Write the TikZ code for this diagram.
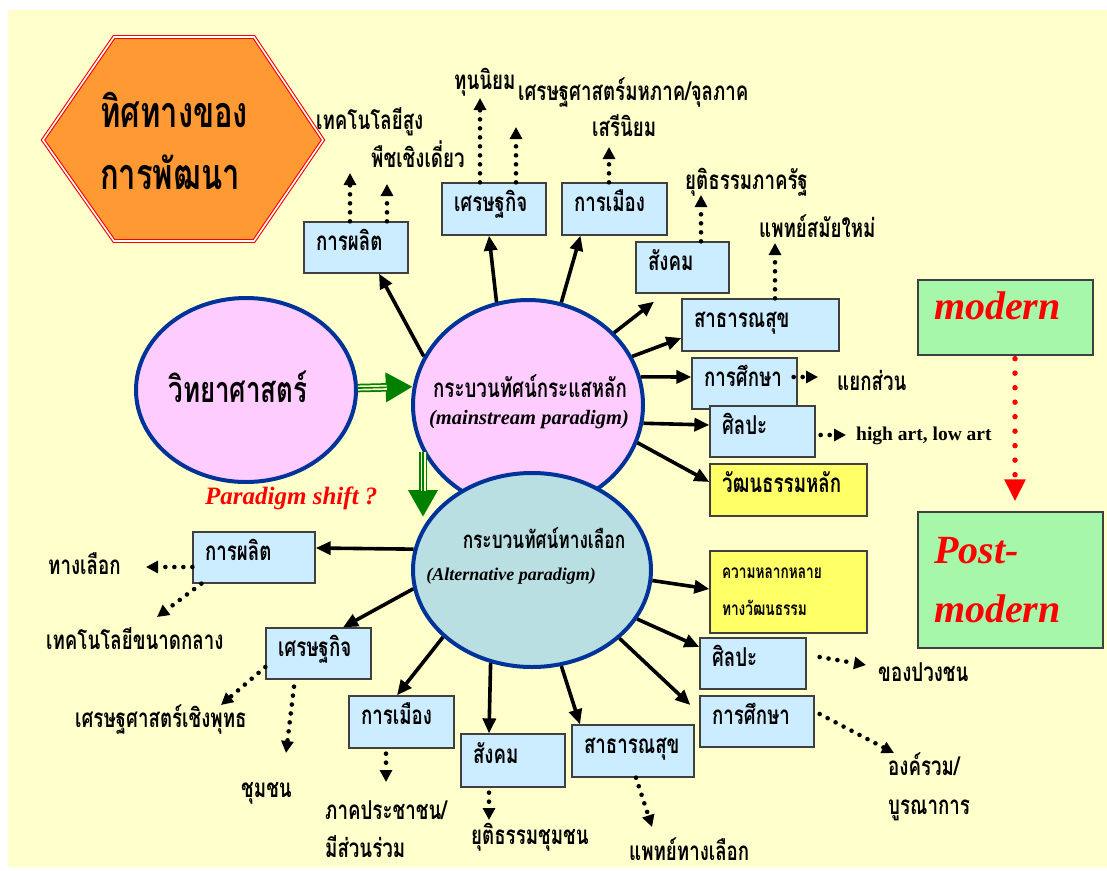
\documentclass[tikz,border=0pt]{standalone}
\usepackage{fontspec}
\setmainfont{Liberation Serif}
\newfontfamily\thai[Script=Thai,FakeStretch=0.72]{Loma}
\usetikzlibrary{arrows.meta,shapes.geometric}
\definecolor{bgyellow}{HTML}{FFFFCC}
\definecolor{hexorange}{HTML}{FF9933}
\definecolor{pinkfill}{HTML}{FFCCFF}
\definecolor{altfill}{HTML}{B9DFE3}
\definecolor{rimblue}{HTML}{003399}
\definecolor{boxblue}{HTML}{CCECFF}
\definecolor{boxyellow}{HTML}{FFFF66}
\definecolor{boxgreen}{HTML}{A6F7AA}
\definecolor{arrowgreen}{HTML}{008000}
\newcommand\mybox[7]{%
  \pgfmathsetmacro\bxw{#5-#3}\pgfmathsetmacro\bxh{#6-#4}\pgfmathsetmacro\bxt{#5-#3-24}%
  \pgfmathsetmacro\bxx{(#3+#5)/2}\pgfmathsetmacro\bxy{(#4+#6)/2}%
  \node[#1, minimum width=\bxw pt, minimum height=\bxh pt, text width=\bxt pt] (#2) at (\bxx,\bxy) {#7};}
\begin{document}
\begin{tikzpicture}[x=1pt,y=-1pt,
  thaifont/.style={font=\thai\bfseries\fontsize{26}{30}\selectfont},
  box/.style={draw=black!75, line width=1.3pt, fill=boxblue, inner xsep=12pt, inner ysep=0pt, align=left, thaifont, text height=0.5em, text depth=0pt},
  ybox/.style={box, fill=boxyellow},
  gbox/.style={box, fill=boxgreen, inner xsep=16pt, text=red, font=\bfseries\itshape\fontsize{40}{59}\selectfont},
  lbl/.style={thaifont, anchor=base west, inner sep=0pt},
  arr/.style={line width=3.6pt, -{Triangle[length=15pt,width=13pt]}},
  dotarr/.style={line width=4.6pt, line cap=round, dash pattern=on 0pt off 9pt, -{Triangle[length=12pt,width=12pt]}},
  reddots/.style={draw=red, line width=5.5pt, line cap=round, dash pattern=on 0pt off 14.5pt, -{Triangle[length=22pt,width=20pt,fill=red]}},
  garrow/.style={draw=arrowgreen, line width=8.5pt, -{Triangle[length=27pt,width=28pt,fill=arrowgreen]},
     postaction={draw=bgyellow, line width=5pt, shorten >=26pt, -},
     postaction={draw=arrowgreen, line width=1.6pt, shorten >=26pt, -}},
  bigell/.style={ellipse, draw=rimblue, line width=4pt, inner sep=0pt}
]
\useasboundingbox (0,0) rectangle (1107,870);
\fill[white] (0,0) rectangle (1107,870);
\fill[bgyellow] (8,10) rectangle (1107,867);

% hexagon
\fill[hexorange] (43,140) -- (114,37) -- (254,37) -- (323,140) -- (254,241) -- (114,241) -- cycle;
\draw[red, line width=1.1pt, double=white, double distance=1.6pt] (43,140) -- (114,37) -- (254,37) -- (323,140) -- (254,241) -- (114,241) -- cycle;
\node[anchor=west, align=left, inner sep=0pt, font=\thai\bfseries\fontsize{43}{62}\selectfont] (hexlabel) at (100,141) {ทิศทางของ\\การพัฒนา};

% ellipses
\node[bigell, fill=pinkfill, minimum width=220pt, minimum height=184pt] (sci) at (246,390) {};
\node[font=\thai\bfseries\fontsize{36}{40}\selectfont, inner sep=0pt] (scilabel) at (238,387) {วิทยาศาสตร์};
\node[bigell, fill=pinkfill, minimum width=230pt, minimum height=210pt] (ms) at (528,405) {};
\node[bigell, fill=altfill, minimum width=238pt, minimum height=194pt] (alt) at (532,570) {};
\node[font=\thai\bfseries\fontsize{26}{30}\selectfont, inner sep=0pt] (mst) at (530,386) {กระบวนทัศน์กระแสหลัก};
\node[font=\bfseries\itshape\fontsize{20.5}{24}\selectfont, inner sep=0pt] (msl) at (529,420) {(mainstream paradigm)};
\node[font=\thai\bfseries\fontsize{24}{28}\selectfont, inner sep=0pt] (altt) at (544,538) {กระบวนทัศน์ทางเลือก};
\node[font=\bfseries\itshape\fontsize{18}{22}\selectfont, inner sep=0pt] (altl) at (511,576) {(Alternative paradigm)};

% green arrows
\draw[garrow] (sci.1.6) -- (ms.171);
\coordinate (gtip) at (423,517);
\draw[garrow] (gtip |- ms.204.6) -- (gtip);
\node[anchor=west, inner sep=0pt, text=red, font=\bfseries\itshape\fontsize{25}{30}\selectfont] (shift) at (205,498) {Paradigm shift ?};

% upper boxes
\mybox{box}{prodA}{304}{222}{408}{273}{การผลิต}
\mybox{box}{econA}{442}{183}{546}{235}{เศรษฐกิจ}
\mybox{box}{polA}{562}{183}{667}{235}{การเมือง}
\mybox{box}{socA}{636}{242}{729}{293}{สังคม}
\mybox{box}{healthA}{682}{299}{839}{351}{สาธารณสุข}
\mybox{box}{eduA}{692}{358}{797}{409}{การศึกษา}
\mybox{box}{artA}{710}{406}{815}{457}{ศิลปะ}
\mybox{ybox}{cultA}{710}{464}{867}{516}{วัฒนธรรมหลัก}
\mybox{ybox, font=\thai\bfseries\fontsize{19}{37}\selectfont, text height={}, text depth={}}{diversB}{710}{551}{867}{633}{ความหลากหลาย\\ทางวัฒนธรรม}

% lower boxes
\mybox{box}{prodB}{193}{532}{315}{583}{การผลิต}
\mybox{box}{econB}{266}{628}{371}{679}{เศรษฐกิจ}
\mybox{box}{polB}{349}{696}{454}{748}{การเมือง}
\mybox{box}{socB}{461}{734}{565}{787}{สังคม}
\mybox{box}{healthB}{572}{725}{694}{777}{สาธารณสุข}
\mybox{box}{eduB}{700}{696}{814}{747}{การศึกษา}
\mybox{box}{artB}{700}{638}{806}{689}{ศิลปะ}

% modern / post-modern
\mybox{gbox, text height=0.46em}{modern}{922}{280}{1089}{355}{modern}
\mybox{gbox, text height={}, text depth={}}{post}{922}{512}{1099}{648}{Post-\\modern}
\draw[reddots] ([xshift=9.5pt,yshift=-3pt]modern.south) -- ([xshift=4.5pt,yshift=10pt]post.north);

% mainstream arrows
\draw[arr] (ms.155.4) -- ([xshift=23pt]prodA.south);
\draw[arr] (ms.107) -- ([xshift=-5pt]econA.south);
\draw[arr] (ms.72) -- ([xshift=-34pt]polA.south);
\draw[arr] (ms.40.5) -- ([xshift=-28.5pt,yshift=-8pt]socA.south);
\draw[arr] (ms.25.4) -- ([yshift=-13pt]healthA.west);
\draw[arr] (ms.14.4) -- ([yshift=6.5pt]eduA.west);
\draw[arr] (ms.-9.6) -- ([yshift=6.5pt]artA.west);
\draw[arr] (ms.-19.9) -- ([yshift=8pt]cultA.west);

% alternative arrows
\draw[arr] (alt.170.4) -- ([yshift=9.5pt]prodB.east);
\draw[arr] (alt.189) -- ([xshift=24.5pt]econB.north);
\draw[arr] (alt.217) -- ([xshift=-4.5pt]polB.north);
\draw[arr] (alt.246) -- ([xshift=-24pt]socB.north);
\draw[arr] (alt.287) -- ([xshift=-53pt]healthB.north);
\draw[arr] (alt.322) -- ([xshift=-9pt,yshift=16.5pt]eduB.west);
\draw[arr] (alt.335) -- ([yshift=16.5pt]artB.west);
\draw[arr] (alt.355) -- ([yshift=3pt]diversB.west);

% dotted arrow tips
\coordinate (d1) at (350,173);
\coordinate (d2) at (387,184);
\coordinate (d3) at (480,98);
\coordinate (d4) at (516,127);
\coordinate (d5) at (609,147);
\coordinate (d6) at (701,195);
\coordinate (d7) at (775,243);
\coordinate (d8) at (818,377);
\coordinate (d9) at (846,435);
\coordinate (d10) at (146,567);
\coordinate (d11) at (157,617);
\coordinate (d12) at (221,705);
\coordinate (d13) at (286,753);
\coordinate (d14) at (386,782);
\coordinate (d15) at (489,820);
\coordinate (d16) at (652,827);
\coordinate (d17) at (894,753);
\coordinate (d18) at (866,665);

\draw[dotarr] ([xshift=-6pt]prodA.north) -- (d1);
\draw[dotarr] ([xshift=31pt]prodA.north) -- (d2);
\draw[dotarr] ([xshift=-14pt]econA.north) -- (d3);
\draw[dotarr] ([xshift=22pt]econA.north) -- (d4);
\draw[dotarr] ([xshift=-5.5pt]polA.north) -- (d5);
\draw[dotarr] ([xshift=18.5pt]socA.north) -- (d6);
\draw[dotarr] ([xshift=14.5pt]healthA.north) -- (d7);
\draw[dotarr] ([xshift=-4pt,yshift=6.5pt]eduA.east) -- (d8);
\draw[dotarr] ([xshift=5pt,yshift=-3.5pt]artA.east) -- (d9);
\draw[dotarr] ([yshift=-9.5pt]prodB.west) -- (d10);
\draw[dotarr] ([xshift=9pt]prodB.south west) -- (d11);
\draw[dotarr] ([yshift=-13.5pt]econB.west) -- (d12);
\draw[dotarr] ([xshift=-24.5pt,yshift=-7pt]econB.south) -- (d13);
\draw[dotarr] ([xshift=-15.5pt,yshift=-5pt]polB.south) -- (d14);
\draw[dotarr] ([xshift=-24pt,yshift=-5pt]socB.south) -- (d15);
\draw[dotarr] ([xshift=3pt]healthB.south) -- (d16);
\draw[dotarr] ([xshift=5pt,yshift=7.5pt]eduB.east) -- (d17);
\draw[dotarr] ([xshift=13pt,yshift=6.5pt]artB.east) -- (d18);

% labels
\node[lbl] (l1) at (316,129) {เทคโนโลยีสูง};
\node[lbl] (l2) at (371,167) {พืชเชิงเดี่ยว};
\node[lbl] (l3) at (454,89) {ทุนนิยม};
\node[lbl] (l4) at (518,100) {เศรษฐศาสตร์มหภาค/จุลภาค};
\node[lbl] (l5) at (592,136) {เสรีนิยม};
\node[lbl] (l6) at (685,189) {ยุติธรรมภาครัฐ};
\node[lbl] (l7) at (759,237) {แพทย์สมัยใหม่};
\node[lbl] (l8) at (837,390) {แยกส่วน};
\node[anchor=base west, inner sep=0pt, font=\bfseries\fontsize{19.5}{24}\selectfont] (l9) at (856,440) {high art, low art};
\node[lbl] (l10) at (48,574) {ทางเลือก};
\node[lbl] (l11) at (46,649) {เทคโนโลยีขนาดกลาง};
\node[lbl] (l12) at (75,727) {เศรษฐศาสตร์เชิงพุทธ};
\node[lbl] (l13) at (241,797) {ชุมชน};
\node[lbl, anchor=north west, align=left, font=\thai\bfseries\fontsize{26}{38}\selectfont] (l14) at (325,800) {ภาคประชาชน/\\มีส่วนร่วม};
\node[lbl] (l15) at (471,844) {ยุติธรรมชุมชน};
\node[lbl] (l16) at (629,860) {แพทย์ทางเลือก};
\node[lbl, anchor=north west, align=left, font=\thai\bfseries\fontsize{26}{39}\selectfont] (l17) at (888,752) {องค์รวม/\\บูรณาการ};
\node[lbl] (l18) at (878,681) {ของปวงชน};
\end{tikzpicture}
\end{document}
